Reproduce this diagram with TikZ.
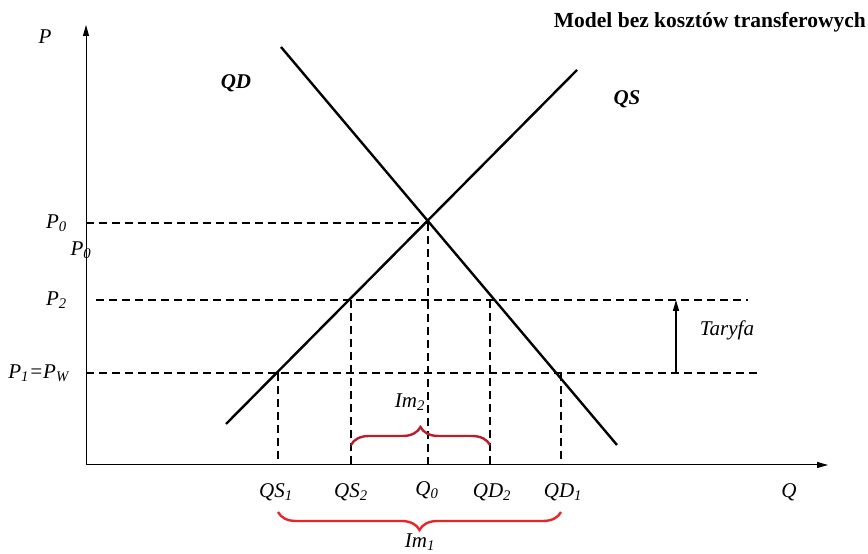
\documentclass[tikz,border=0pt]{standalone}
\usepackage{fontspec}
\setmainfont{Liberation Serif}
\usetikzlibrary{arrows.meta, positioning, decorations.pathreplacing}
\definecolor{bracedark}{HTML}{B5202A}
\definecolor{bracelight}{HTML}{E8262A}

\begin{document}
\begin{tikzpicture}[x=1pt, y=1pt, >={Triangle[length=11pt, width=6pt]},
  lbl/.style={font=\fontsize{21}{23}\selectfont\itshape, inner sep=1pt},
  curve/.style={line width=2.4pt},
  guide/.style={line width=1.6pt, dash pattern=on 8pt off 5pt},
  imbrace/.style={line width=2.4pt, decorate, decoration={brace, amplitude=18pt}}
]
  \useasboundingbox (0,0) rectangle (868,554);

  % Axes
  \coordinate (O) at (86,89);
  \coordinate (ptop) at (86,529);
  \coordinate (qend) at (828,89);
  \draw[line width=1pt, ->] (O) -- (ptop);
  \draw[line width=1pt, ->] (O) -- (qend);
  \node[lbl] (P) at (45,517) {P};
  \node[lbl] (Q) at (789,62) {Q};

  % Demand and supply
  \coordinate (qs0) at (226,130);
  \coordinate (qs1) at (577,484);
  \coordinate (qd0) at (281,507);
  \coordinate (qd1) at (617,109);
  \draw[curve] (qs0) -- (qs1);
  \draw[curve] (qd0) -- (qd1);
  \node[lbl, font=\fontsize{21}{23}\selectfont\bfseries\itshape] (QD) at (236,471) {QD};
  \node[lbl, font=\fontsize{21}{23}\selectfont\bfseries\itshape] (QS) at (627,455) {QS};

  % Price levels
  \coordinate (E0) at (428,331);
  \coordinate (S2) at (351,254);
  \coordinate (D2) at (490,254);
  \coordinate (S1) at (278,181);
  \coordinate (D1) at (561,181);
  \coordinate (p0) at (86,331);
  \coordinate (p2a) at (96,254);
  \coordinate (p2b) at (748,254);
  \coordinate (p1a) at (86,181);
  \coordinate (p1b) at (757,181);
  \draw[guide] (p0) -- (E0);
  \draw[guide] (p2a) -- (p2b);
  \draw[guide] (p1a) -- (p1b);

  \node[lbl, anchor=east] (P0) at (68,331) {P\textsubscript{0}};
  \node[lbl] (P0b) at (81,304) {P\textsubscript{0}};
  \node[lbl, anchor=east] (P2) at (68,254) {P\textsubscript{2}};
  \node[lbl, anchor=east] (P1) at (70,181) {P\textsubscript{1}=P\textsubscript{W}};

  % Quantities
  \coordinate (qS1) at (278,89);
  \coordinate (qS2) at (351,89);
  \coordinate (q0) at (428,89);
  \coordinate (qD2) at (490,89);
  \coordinate (qD1) at (561,89);
  \draw[guide] (S1) -- (qS1);
  \draw[guide] (S2) -- (qS2);
  \draw[guide] (E0) -- (q0);
  \draw[guide] (D2) -- (qD2);
  \draw[guide] (D1) -- (qD1);

  \node[lbl] (QS1) at (276,62) {QS\textsubscript{1}};
  \node[lbl] (QS2) at (351,62) {QS\textsubscript{2}};
  \node[lbl] (Q0) at (427,64) {Q\textsubscript{0}};
  \node[lbl] (QD2) at (492,62) {QD\textsubscript{2}};
  \node[lbl] (QD1) at (563,62) {QD\textsubscript{1}};

  % Import braces
  \coordinate (b2a) at (351,109);
  \coordinate (b2b) at (490,109);
  \coordinate (b1a) at (561,42);
  \coordinate (b1b) at (278,42);
  \draw[imbrace, bracedark] (b2a) -- (b2b);
  \draw[imbrace, bracelight] (b1a) -- (b1b);
  \node[lbl] (Im2) at (410,152) {Im\textsubscript{2}};
  \node[lbl] (Im1) at (420,12) {Im\textsubscript{1}};

  % Tariff
  \coordinate (t0) at (676,181);
  \coordinate (t1) at (676,254);
  \draw[line width=1.4pt, ->] (t0) -- (t1);
  \node[lbl] (tar) at (727,224) {Taryfa};

  \node[font=\fontsize{21.5}{23}\selectfont\bfseries, anchor=base east, inner sep=0pt] (title) at (866,526) {Model bez kosztów transferowych};
\end{tikzpicture}
\end{document}
